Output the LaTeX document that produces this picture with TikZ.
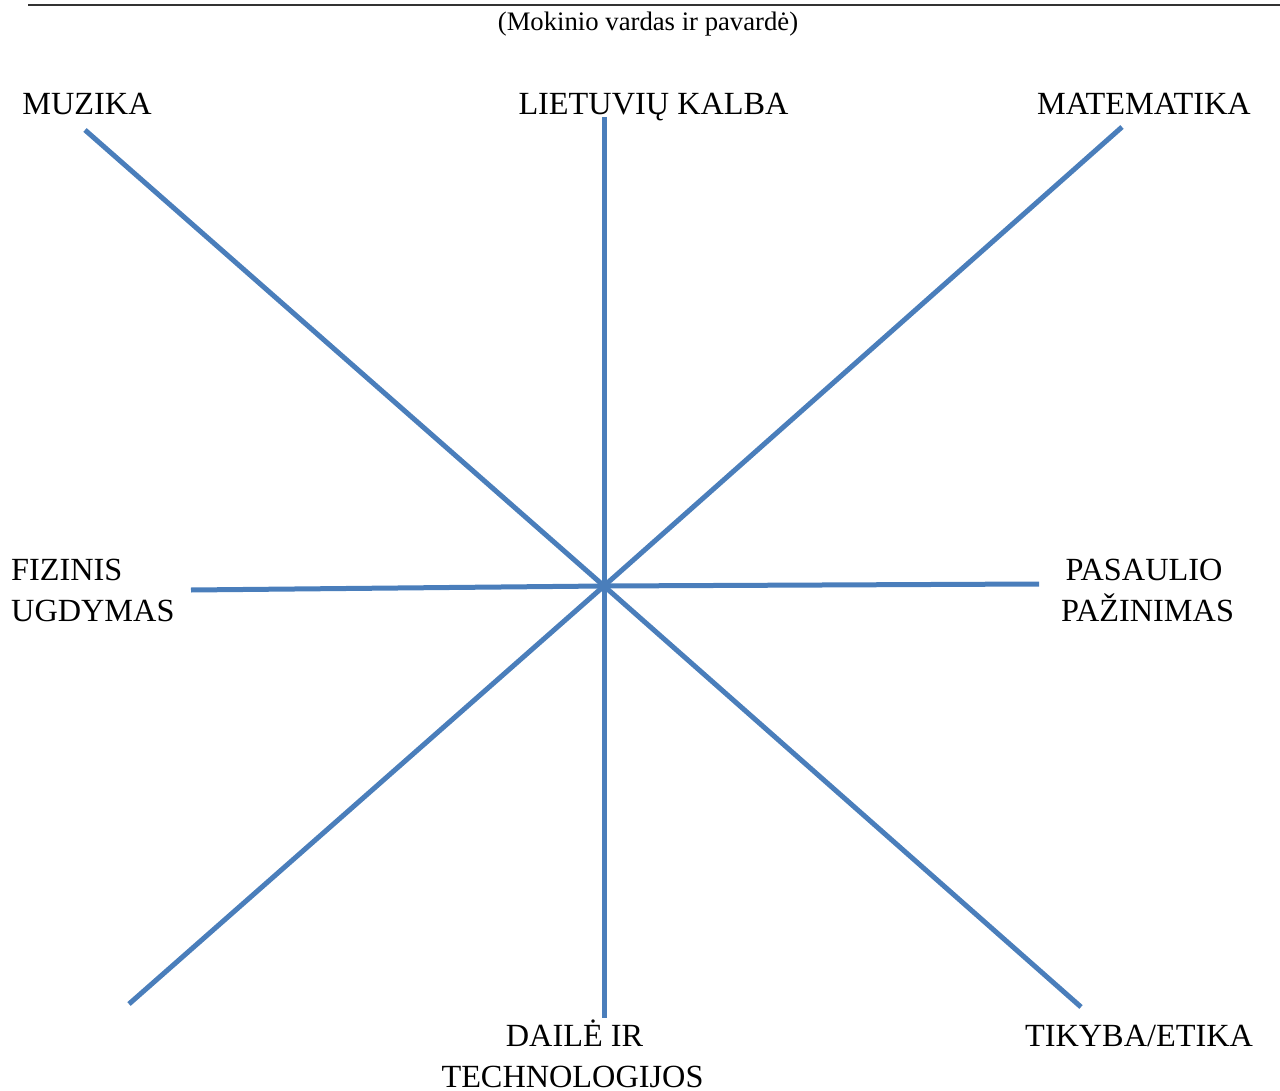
\documentclass[tikz,border=0pt]{standalone}
\usepackage{fontspec}
\setmainfont{Liberation Serif}
\definecolor{axisblue}{RGB}{74,126,187}
\definecolor{ruleline}{RGB}{50,50,50}
\tikzset{
  axis/.style={draw=axisblue, line width=5pt},
  lbl/.style={inner sep=0pt, anchor=base, font=\fontsize{32.3}{38}\selectfont},
  lblw/.style={inner sep=0pt, anchor=base west, font=\fontsize{32.3}{38}\selectfont},
  sub/.style={inner sep=0pt, anchor=base, font=\fontsize{26.7}{32}\selectfont},
}
\begin{document}
\begin{tikzpicture}[x=1pt,y=-1pt]
\useasboundingbox (0,0) rectangle (1280,1091);
\coordinate (ls) at (28,5);
\coordinate (le) at (1280,5);
\draw[ruleline, line width=1.5pt] (ls) -- (le);
\node[sub] (name) at (648,31) {(Mokinio vardas ir pavardė)};

\coordinate (c) at (604,586);
\coordinate (nw) at (85,130);
\coordinate (se) at (1081,1007);
\coordinate (ne) at (1122,127);
\coordinate (sw) at (129,1004);
\coordinate (n) at (604,117);
\coordinate (s) at (604,1018);
\coordinate (w) at (191,590);
\coordinate (e) at (1039,584);

\draw[axis] (nw) -- (c) -- (se);
\draw[axis] (ne) -- (c) -- (sw);
\draw[axis] (n) -- (s);
\draw[axis] (w) -- (c) -- (e);

\node[lbl] (muz) at (87,114.5) {MUZIKA};
\node[lbl] (lt) at (653.5,114.5) {LIETUVIŲ KALBA};
\node[lbl] (mat) at (1144,114.5) {MATEMATIKA};
\node[lblw] (fiz1) at (11,580.5) {FIZINIS};
\node[lblw] (fiz2) at (11,621.5) {UGDYMAS};
\node[lbl] (pas1) at (1144,580.5) {PASAULIO};
\node[lbl] (pas2) at (1147.5,621.5) {PAŽINIMAS};
\node[lbl] (tik) at (1139,1046.5) {TIKYBA/ETIKA};
\node[lbl] (dai1) at (574.5,1046.5) {DAILĖ IR};
\node[lbl] (dai2) at (572.5,1087.5) {TECHNOLOGIJOS};
\end{tikzpicture}
\end{document}
